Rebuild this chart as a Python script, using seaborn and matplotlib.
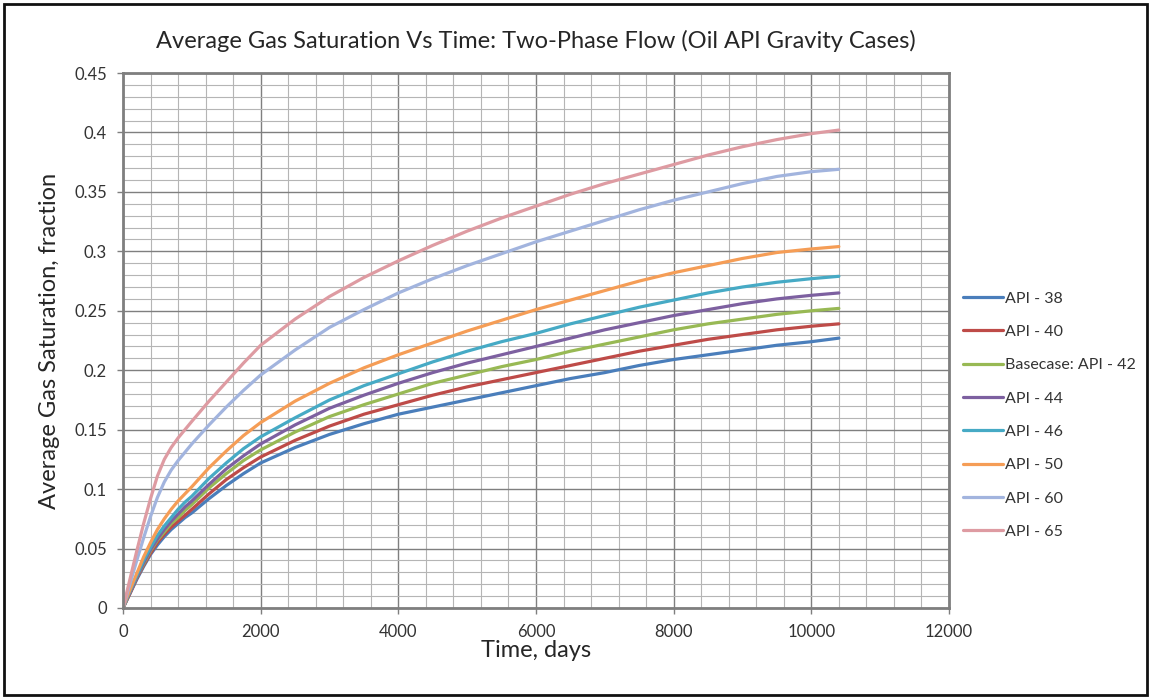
import numpy as np
import pandas as pd
import matplotlib
matplotlib.use("Agg")
import matplotlib.pyplot as plt
from matplotlib.ticker import MultipleLocator, FuncFormatter
from matplotlib.patches import Rectangle
import seaborn as sns

# ---- data ----
time_days = [0, 50, 100, 200, 300, 400, 500, 600, 700, 800, 900, 1000,
             1250, 1500, 1750, 2000, 2500, 3000, 3500, 4000, 4500, 5000,
             5500, 6000, 6500, 7000, 7500, 8000, 8500, 9000, 9500, 10000, 10400]

api_38 = [0, 0.006, 0.012, 0.024, 0.035, 0.045, 0.053, 0.060, 0.066, 0.071, 0.076,
          0.080, 0.092, 0.103, 0.113, 0.122, 0.135, 0.146, 0.155, 0.163, 0.169,
          0.175, 0.181, 0.187, 0.193, 0.198, 0.204, 0.209, 0.213, 0.217, 0.221,
          0.224, 0.227]
api_40 = [0, 0.006, 0.012, 0.025, 0.036, 0.046, 0.055, 0.062, 0.068, 0.073, 0.078,
          0.083, 0.096, 0.108, 0.118, 0.127, 0.141, 0.153, 0.163, 0.171, 0.179,
          0.186, 0.192, 0.198, 0.204, 0.210, 0.216, 0.221, 0.226, 0.230, 0.234,
          0.237, 0.239]
api_42 = [0, 0.007, 0.013, 0.026, 0.037, 0.048, 0.057, 0.064, 0.071, 0.076, 0.082,
          0.087, 0.101, 0.113, 0.124, 0.133, 0.148, 0.161, 0.171, 0.180, 0.189,
          0.196, 0.203, 0.209, 0.216, 0.222, 0.228, 0.234, 0.239, 0.243, 0.247,
          0.250, 0.252]
api_44 = [0, 0.007, 0.013, 0.026, 0.038, 0.049, 0.058, 0.066, 0.073, 0.079, 0.085,
          0.090, 0.104, 0.117, 0.128, 0.138, 0.154, 0.168, 0.179, 0.189, 0.198,
          0.206, 0.213, 0.220, 0.227, 0.234, 0.240, 0.246, 0.251, 0.256, 0.260,
          0.263, 0.265]
api_46 = [0, 0.007, 0.014, 0.027, 0.040, 0.051, 0.061, 0.069, 0.076, 0.083, 0.089,
          0.094, 0.109, 0.122, 0.134, 0.144, 0.160, 0.175, 0.187, 0.197, 0.207,
          0.216, 0.224, 0.231, 0.239, 0.246, 0.253, 0.259, 0.265, 0.270, 0.274,
          0.277, 0.279]
api_50 = [0, 0.008, 0.015, 0.029, 0.043, 0.055, 0.066, 0.075, 0.083, 0.090, 0.096,
          0.102, 0.118, 0.132, 0.145, 0.156, 0.174, 0.189, 0.202, 0.213, 0.223,
          0.233, 0.242, 0.251, 0.259, 0.267, 0.275, 0.282, 0.288, 0.294, 0.299,
          0.302, 0.304]
api_60 = [0, 0.010, 0.020, 0.040, 0.059, 0.077, 0.093, 0.106, 0.116, 0.124, 0.131,
          0.138, 0.154, 0.169, 0.183, 0.196, 0.217, 0.236, 0.251, 0.265, 0.277,
          0.288, 0.298, 0.308, 0.317, 0.326, 0.335, 0.343, 0.350, 0.357, 0.363,
          0.367, 0.369]
api_65 = [0, 0.012, 0.024, 0.048, 0.071, 0.092, 0.111, 0.125, 0.135, 0.143, 0.150,
          0.157, 0.174, 0.190, 0.206, 0.221, 0.243, 0.262, 0.278, 0.292, 0.305,
          0.317, 0.328, 0.338, 0.348, 0.357, 0.365, 0.373, 0.381, 0.388, 0.394,
          0.399, 0.402]

series_names = ["API - 38", "API - 40", "Basecase: API - 42", "API - 44",
                "API - 46", "API - 50", "API - 60", "API - 65"]
series_values = [api_38, api_40, api_42, api_44, api_46, api_50, api_60, api_65]
colors = ["#4A7EBB", "#BE4B48", "#98B954", "#7D60A0", "#46AAC5",
          "#F59D56", "#A2B4DE", "#DE9BA2"]

x_ticks = [0, 2000, 4000, 6000, 8000, 10000, 12000]
y_ticks = [0, 0.05, 0.1, 0.15, 0.2, 0.25, 0.3, 0.35, 0.4, 0.45]

rows = []
for name, vals in zip(series_names, series_values):
    for t, v in zip(time_days, vals):
        rows.append({"Time": t, "Sg": v, "Case": name})
df = pd.DataFrame(rows)

# ---- figure ----
sns.set_theme(style="white")
plt.rcParams["font.family"] = ["Lato", "DejaVu Sans"]

W, H = 1151, 699
fig = plt.figure(figsize=(W / 100, H / 100), dpi=100)
left, right, top, bottom = 123, 949, 73, 608
ax = fig.add_axes([left / W, 1 - bottom / H, (right - left) / W, (bottom - top) / H])

sns.lineplot(data=df, x="Time", y="Sg", hue="Case", hue_order=series_names,
             palette=colors, linewidth=2.3, ax=ax, legend=True, sort=False)

ax.set_xlim(0, 12000)
ax.set_ylim(0, 0.45)
ax.set_xticks(x_ticks)
ax.set_yticks(y_ticks)
ax.xaxis.set_minor_locator(MultipleLocator(400))
ax.yaxis.set_minor_locator(MultipleLocator(0.01))
ax.yaxis.set_major_formatter(FuncFormatter(lambda v, p: "0" if v == 0 else ("%g" % round(v, 2))))
ax.grid(which="major", color="#7f7f7f", linewidth=1.0)
ax.grid(which="minor", color="#b5b5b5", linewidth=0.8)
ax.set_axisbelow(True)
for s in ax.spines.values():
    s.set_color("#7f7f7f")
    s.set_linewidth(2.0)
ax.tick_params(axis="both", which="major", length=4.5, width=1, color="#7f7f7f",
               labelsize=12, labelcolor="#333333", direction="out",
               bottom=True, left=True, pad=7)
ax.tick_params(which="minor", length=0)

ax.set_xlabel("Time, days", fontsize=17, color="#262626", labelpad=0)
ax.set_ylabel("Average Gas Saturation, fraction", fontsize=17, color="#262626", labelpad=10)
ax.set_title("Average Gas Saturation Vs Time: Two-Phase Flow (Oil API Gravity Cases)",
             fontsize=17, color="#262626", pad=18)

leg = ax.legend(loc="upper left", bbox_to_anchor=(957 / W, 1 - 285 / H),
                bbox_transform=fig.transFigure, frameon=False, fontsize=11.5,
                handlelength=2.5, handletextpad=0.1, labelspacing=1.2,
                borderaxespad=0)
for t in leg.get_texts():
    t.set_color("#333333")
for l in leg.get_lines():
    l.set_linewidth(2.3)

fig.patches.append(Rectangle((4 / W, 4 / H), 1 - 8 / W, 1 - 8 / H,
                             transform=fig.transFigure, fill=False,
                             edgecolor="#111111", linewidth=2.0))

fig.savefig("out.png", dpi=100, facecolor="white")
